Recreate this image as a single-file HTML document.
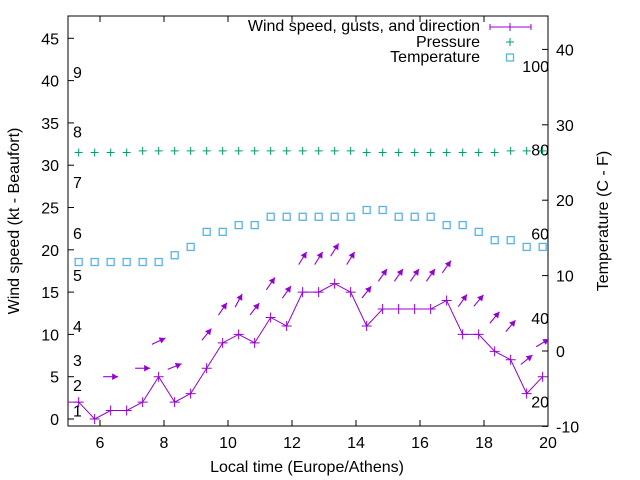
<!DOCTYPE html>
<html><head><meta charset="utf-8"><style>
body{margin:0;background:#fff}
svg{display:block;font-family:"Liberation Sans",sans-serif}
</style></head><body>
<svg id="chart" width="640" height="480" viewBox="0 0 640 480"></svg>
<script>
const times=[5.333,5.833,6.333,6.833,7.333,7.833,8.333,8.833,9.333,9.833,10.333,10.833,11.333,11.833,12.333,12.833,13.333,13.833,14.333,14.833,15.333,15.833,16.333,16.833,17.333,17.833,18.333,18.833,19.333,19.833];
const wind=[2,0,1,1,2,5,2,3,6,9,10,9,12,11,15,15,16,15,11,13,13,13,13,14,10,10,8,7,3,5];
const gusts=[null,null,5,null,6,9.2,6.2,null,10,13,14,13,16,15,19,19,20,19,15,17,17,17,17,18,14,14,12,11,7,9];
const dirAngle=[null,null,0,null,0,25,22,null,51,56,62,52,55,55,58,58,58,58,52,55,55,55,55,55,55,50,50,50,39,31];
const pressure=[31.5,31.5,31.5,31.5,31.7,31.7,31.7,31.7,31.7,31.7,31.7,31.7,31.7,31.7,31.7,31.7,31.7,31.7,31.5,31.5,31.5,31.5,31.5,31.5,31.5,31.5,31.5,31.7,31.7,31.7];
const temperature=[11.8,11.8,11.8,11.8,11.8,11.8,12.7,13.8,15.8,15.8,16.7,16.7,17.8,17.8,17.8,17.8,17.8,17.8,18.7,18.7,17.8,17.8,17.8,16.7,16.7,15.8,14.7,14.7,13.8,13.8];
const xTicks=[6,8,10,12,14,16,18,20];
const yTicks=[0,5,10,15,20,25,30,35,40,45];
const y2Ticks=[-10,0,10,20,30,40];
const beaufortLabels=["1","2","3","4","5","6","7","8","9"];
const beaufortPos=[1,4,7,11,17,22,28,34,41];
const fLabels=["20","40","60","80","100"];
const fPos=[-6.7,4.4,15.6,26.7,37.8];

const L=68,R=548,T=16,B=426;
const X=v=>L+(v-5)*32;
const Y=v=>419-v*8.46;
const Y2=v=>351-v*7.54;
const svg=document.getElementById('chart');
const NS='http://www.w3.org/2000/svg';
function mk(tag,attrs,parent){const e=document.createElementNS(NS,tag);for(const k in attrs)e.setAttribute(k,attrs[k]);(parent||svg).appendChild(e);return e;}
function txt(s,x,y,anchor,size,parent){const e=mk('text',{x:x,y:y,'text-anchor':anchor,'font-size':size,fill:'#000'},parent);e.textContent=s;return e;}

const defs=mk('defs',{});
const cp=mk('clipPath',{id:'clip'},defs);
mk('rect',{x:L,y:T,width:R-L,height:B-T},cp);

const frame=mk('rect',{x:L,y:T,width:R-L,height:B-T,fill:'none',stroke:'#000','stroke-width':1});



xTicks.forEach(v=>{
  const x=X(v);
  mk('line',{x1:x,y1:B,x2:x,y2:B-6,stroke:'#000'});
  mk('line',{x1:x,y1:T,x2:x,y2:T+6,stroke:'#000'});
  const t=txt(String(v),x,B+22,'middle',16);
  
  
});
yTicks.forEach(v=>{
  const y=Y(v);
  mk('line',{x1:L,y1:y,x2:L+6,y2:y,stroke:'#000'});
  const t=txt(String(v),L-9,y+6,'end',16);
  
  
});
y2Ticks.forEach(v=>{
  const y=Y2(v);
  mk('line',{x1:R,y1:y,x2:R-6,y2:y,stroke:'#000'});
  const t=txt(String(v),R+8,y+6,'start',16);
  
  
});
beaufortLabels.forEach((s,i)=>{
  const t=txt(s,73,Y(beaufortPos[i])+6,'start',16);
  
  
});
fLabels.forEach((s,i)=>{
  const t=txt(s,549,Y2(fPos[i])+6,'end',16);
  
  
});

const g=mk('g',{'clip-path':'url(#clip)'});



let d='M'+L+' '+Y(wind[0]);
times.forEach((t,i)=>{d+=' L'+X(t)+' '+Y(wind[i]);});
const wl=mk('path',{d:d,fill:'none',stroke:'#9400d3','stroke-width':1},g);


times.forEach((t,i)=>{
  const x=X(t),y=Y(wind[i]);
  const p=mk('path',{d:`M${x-5} ${y}H${x+5}M${x} ${y-5}V${y+5}`,stroke:'#9400d3','stroke-width':1},g);
  
  
});
times.forEach((t,i)=>{
  if(gusts[i]==null)return;
  const cx=X(t),cy=Y(gusts[i]),a=dirAngle[i]*Math.PI/180,len=15;
  const dx=Math.cos(a)*len/2,dy=-Math.sin(a)*len/2;
  const x1=cx-dx,y1=cy-dy,x2=cx+dx,y2=cy+dy;
  const ag=mk('g',{},g);
  
  
  mk('line',{x1:x1,y1:y1,x2:x2,y2:y2,stroke:'#9400d3','stroke-width':1.1},ag);
  const ux=Math.cos(a),uy=-Math.sin(a),px=-uy,py=ux;
  const hl=6,hw=3.3;
  const bx=x2-ux*hl,by=y2-uy*hl;
  mk('polygon',{points:`${x2},${y2} ${bx+px*hw},${by+py*hw} ${bx-px*hw},${by-py*hw}`,fill:'#9400d3'},ag);
});
times.forEach((t,i)=>{
  const x=X(t),y=Y(pressure[i]);
  const p=mk('path',{d:`M${x-4} ${y}H${x+4}M${x} ${y-4}V${y+4}`,stroke:'#009e73','stroke-width':1},g);
  
  
});
times.forEach((t,i)=>{
  const x=X(t),y=Y2(temperature[i]);
  const r=mk('rect',{x:x-3.5,y:y-3.5,width:7,height:7,fill:'none',stroke:'#56b4e9','stroke-width':1.3},g);
  
  
});

const xt=txt('Local time (Europe/Athens)',307,472,'middle',16);


const yt=txt('Wind speed (kt - Beaufort)',0,0,'middle',16);
yt.setAttribute('transform','translate(19,221) rotate(-90)');


const y2t=txt('Temperature (C - F)',0,0,'middle',16);
y2t.setAttribute('transform','translate(608,221) rotate(-90)');



const lg=mk('g',{});


const l1=txt('Wind speed, gusts, and direction',480,31,'end',16,lg);


mk('path',{d:'M490 27H531M490 24V30M531 24V30M510 23V31',stroke:'#9400d3','stroke-width':1},lg);
const l2=txt('Pressure',480,47,'end',16,lg);


mk('path',{d:'M506 42H514M510 38V46',stroke:'#009e73','stroke-width':1},lg);
const l3=txt('Temperature',480,62,'end',16,lg);


mk('rect',{x:506.5,y:54,width:7,height:7,fill:'none',stroke:'#56b4e9','stroke-width':1.3},lg);
</script>
</body></html>
